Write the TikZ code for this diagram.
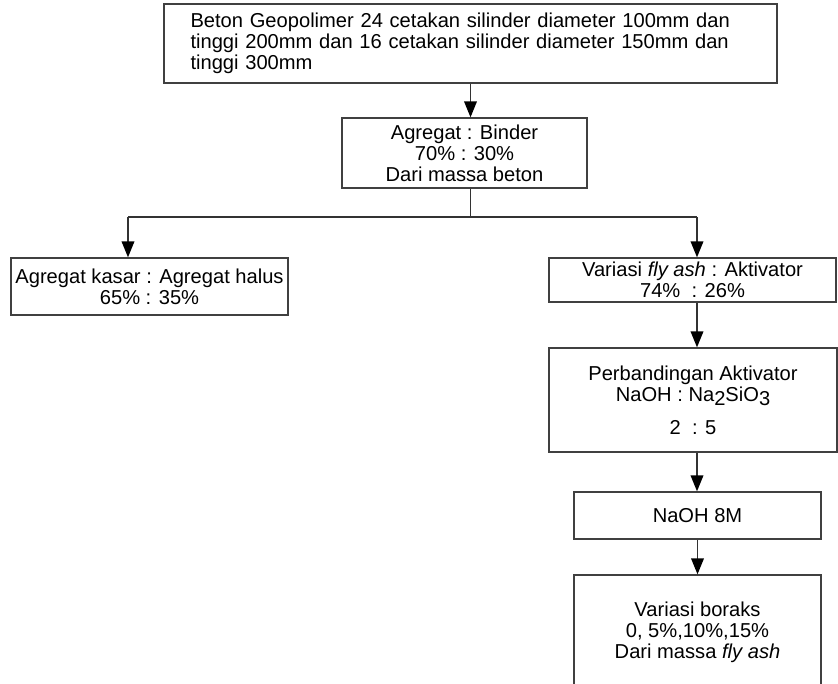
\documentclass[tikz,border=0pt]{standalone}
\usepackage{fontspec}
\setmainfont{Liberation Sans}
\usetikzlibrary{arrows.meta,positioning,calc}

\tikzset{
  boxnode/.style={draw=black!75, line width=1pt, align=center, inner sep=0pt,
    font=\fontsize{15.1}{15.6}\selectfont},
  flow/.style={draw=black!80, line width=1.1pt, -{Triangle[width=9.5pt,length=12pt,color=black]}},
  link/.style={draw=black!80, line width=1.1pt},
}

\begin{document}
\begin{tikzpicture}[x=0.75pt,y=-0.75pt]
    \clip (0,0) rectangle (838,683);

    % beton geopolimer
    \node[boxnode, minimum width=459.75pt, minimum height=59.25pt, text width=420pt, align=left]
      (beton) at (470.5,43.5) {Beton Geopolimer 24 cetakan silinder diameter 100mm dan\\
      tinggi 200mm dan 16 cetakan silinder diameter 150mm dan\\ tinggi 300mm};

    % agregat : binder
    \node[boxnode, minimum width=183.75pt, minimum height=52.5pt]
      (binder) at (464.5,153) {Agregat : Binder\\ 70\% : 30\%\\ Dari massa beton};
    \draw[flow] (beton.south) -- (beton.south |- binder.north);

    % split
    \coordinate (split) at (470.5,217);
    \coordinate (splitL) at (128,217);
    \coordinate (splitR) at (697,217);
    \draw[link] (beton.south |- binder.south) -- (split);
    \draw[link] (splitL) -- (splitR);

    % left branch
    \node[boxnode, minimum width=207.75pt, minimum height=42.75pt]
      (agregat) at (149.5,286.5) {Agregat kasar : Agregat halus\\ 65\% : 35\%};
    \draw[flow] (splitL) -- (splitL |- agregat.north);

    % right branch
    \node[boxnode, minimum width=215.25pt, minimum height=33pt]
      (flyash) at (692.5,280) {Variasi \textit{fly ash} : Aktivator\\ 74\%~~: 26\%};
    \draw[flow] (splitR) -- (splitR |- flyash.north);

    \node[boxnode, minimum width=216pt, minimum height=78pt]
      (aktivator) at (693,400) {Perbandingan Aktivator\\
      NaOH : Na\raisebox{-0.4ex}{2}SiO\raisebox{-0.4ex}{3}\\[9pt] 2~~: 5};
    \draw[flow] (splitR |- flyash.south) -- (splitR |- aktivator.north);

    \node[boxnode, minimum width=185.25pt, minimum height=35.25pt]
      (naoh) at (697.5,515.5) {NaOH 8M};
    \draw[flow] (splitR |- aktivator.south) -- (splitR |- naoh.north);

    \node[boxnode, minimum width=185.25pt, minimum height=86.25pt]
      (boraks) at (697.5,632.5) {Variasi boraks\\ 0, 5\%,10\%,15\%\\ Dari massa \textit{fly ash}};
    \draw[flow] (naoh.south) -- (boraks.north);
\end{tikzpicture}
\end{document}
